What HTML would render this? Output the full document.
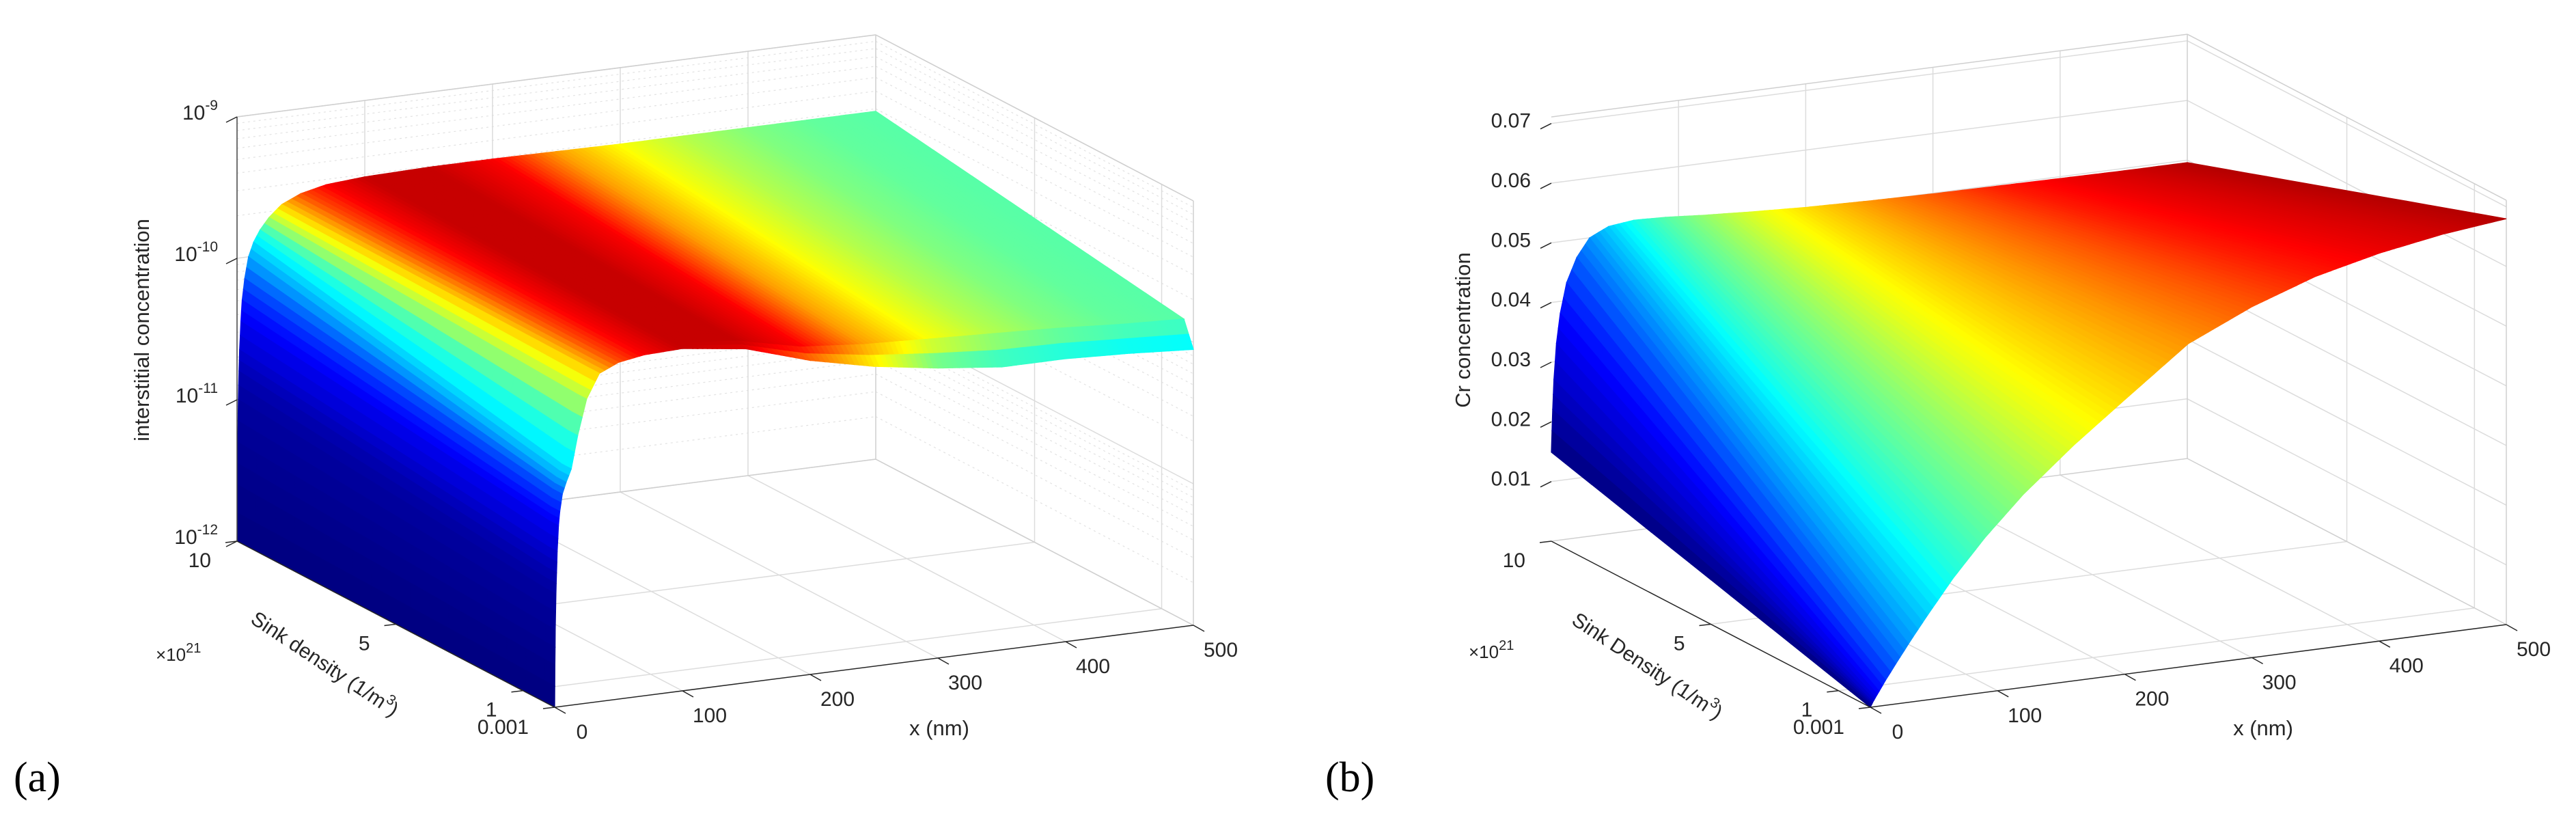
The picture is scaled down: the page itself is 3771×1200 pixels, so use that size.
<!DOCTYPE html>
<html><head><meta charset="utf-8"><style>
html,body{margin:0;padding:0;background:#fff;}
svg{display:block;}
text{font-family:"Liberation Sans",sans-serif;fill:#262626;}
</style></head><body>
<svg id="fig" xmlns="http://www.w3.org/2000/svg" width="3771" height="1200" viewBox="0 0 3771 1200">
<rect width="3771" height="1200" fill="#fff"/>
<g id="pa"></g>
<g id="pb"></g>
<text x="20" y="1158" style="font-family:'Liberation Serif',serif;font-size:62px;fill:#000">(a)</text>
<text x="1940" y="1158" style="font-family:'Liberation Serif',serif;font-size:62px;fill:#000">(b)</text>
</svg>
<script>
// ---------- Panel (a) data: log10 interstitial concentration ----------
const aX = [0,0.2,0.5,1,1.5,2,3,4,6,9,13,18,25,35,50,70,100,150,200,250,300,350,400,450,500];
const aSink = [0.001,0.3,10];
const aZLow  = [-12,-11.7,-11.45,-11.2,-11.05,-10.9,-10.72,-10.62,-10.5,-10.42,-10.33,-10.1,-9.85,-9.68,-9.62,-9.59,-9.58,-9.64,-9.78,-9.88,-9.95,-10.0,-10.0,-10.02,-10.05];
const aZMid  = [-12,-11.7,-11.45,-11.2,-11.05,-10.9,-10.72,-10.62,-10.5,-10.42,-10.33,-10.1,-9.85,-9.68,-9.62,-9.59,-9.58,-9.62,-9.72,-9.76,-9.78,-9.8,-9.82,-9.85,-9.87];
const aZHigh = [-12,-11.6,-11.3,-11.0,-10.8,-10.65,-10.45,-10.3,-10.15,-10.0,-9.9,-9.82,-9.74,-9.66,-9.6,-9.56,-9.54,-9.53,-9.53,-9.535,-9.54,-9.54,-9.54,-9.54,-9.54];
const aCTop  = [0,0.01,0.02,0.03,0.05,0.08,0.11,0.15,0.21,0.29,0.35,0.42,0.55,0.68,0.8,0.88,0.93,0.93,0.88,0.72,0.62,0.55,0.5,0.47,0.46];
const aCLow  = [0,0.01,0.02,0.03,0.05,0.08,0.11,0.15,0.21,0.29,0.35,0.42,0.55,0.68,0.8,0.88,0.93,0.9,0.75,0.62,0.45,0.4,0.38,0.36,0.35];
const aZTicks = [-12,-11,-10,-9];
const aZTickLabels = ["-12","-11","-10","-9"];
const aXTicks = [0,100,200,300,400,500];
const aSTicks = [0.001,1,5,10];
const aSTickLabels = ["0.001","1","5","10"];
// ---------- Panel (b) data: Cr concentration ----------
const bX = [0,1,2,4,7,12,20,30,45,65,90,120,160,200,250,300,350,400,450,500];
const bSink = [0.001,10];
const bZLow  = [0,0.0004,0.0008,0.0015,0.0025,0.0042,0.0067,0.0098,0.0142,0.0198,0.0259,0.0323,0.0395,0.046,0.054,0.0588,0.0625,0.065,0.0668,0.068];
const bZHigh = [0.0149,0.022,0.027,0.033,0.038,0.043,0.047,0.05,0.0515,0.052,0.0518,0.0513,0.0508,0.0504,0.0501,0.0499,0.0498,0.0497,0.0496,0.0496];
const bC     = [0,0.04,0.07,0.1,0.13,0.17,0.22,0.27,0.33,0.4,0.46,0.52,0.6,0.66,0.73,0.79,0.85,0.89,0.92,0.95];
const bZTicks = [0.01,0.02,0.03,0.04,0.05,0.06,0.07];
const bZTickLabels = ["0.01","0.02","0.03","0.04","0.05","0.06","0.07"];
const bXTicks = [0,100,200,300,400,500];
const bSTicks = [0.001,1,5,10];
const bSTickLabels = ["0.001","1","5","10"];

const NS="http://www.w3.org/2000/svg";
function mk(tag, attrs, parent){const e=document.createElementNS(NS,tag);for(const k in attrs)e.setAttribute(k,attrs[k]);parent.appendChild(e);return e;}
function cl(v){return Math.max(0,Math.min(1,v));}
function jet(c){c=cl(c);const r=cl(1.5-Math.abs(4*c-3)),g=cl(1.5-Math.abs(4*c-2)),b=cl(1.5-Math.abs(4*c-1));
 return `rgb(${Math.round(r*255)},${Math.round(g*255)},${Math.round(b*255)})`;}

function makeProj(O, ex, es, zbase, zscale){
 return (x,s,z)=>[O[0]+x/500*ex[0]+(s-0.001)/9.999*es[0], O[1]+x/500*ex[1]+(s-0.001)/9.999*es[1]-(z-zbase)*zscale];
}
function line(g,p,q,stroke,w,dash,name){
 const l=mk('line',{x1:p[0],y1:p[1],x2:q[0],y2:q[1],stroke:stroke,'stroke-width':w},g);
 if(dash)l.setAttribute('stroke-dasharray',dash);
 
 
 return l;
}
function surface(g, P, xs, ss, zRows, cRows, nsSubs, name){
 const quads=[];
 for(let j=0;j<ss.length-1;j++){
  const ns=nsSubs[j];
  for(let i=0;i<xs.length-1;i++){
   const nxSub=Math.max(2,Math.ceil((xs[i+1]-xs[i])/4));
   for(let a=0;a<nxSub;a++){
    for(let b=0;b<ns;b++){
     const pts=[];let csum=0,dsum=0;
     [[a,b],[a+1,b],[a+1,b+1],[a,b+1]].forEach(([u,v])=>{
      const fu=u/nxSub,fv=v/ns;
      const x=xs[i]+(xs[i+1]-xs[i])*fu;
      const s=ss[j]+(ss[j+1]-ss[j])*fv;
      const z0=zRows[j][i]+(zRows[j][i+1]-zRows[j][i])*fu;
      const z1=zRows[j+1][i]+(zRows[j+1][i+1]-zRows[j+1][i])*fu;
      const c0=cRows[j][i]+(cRows[j][i+1]-cRows[j][i])*fu;
      const c1=cRows[j+1][i]+(cRows[j+1][i+1]-cRows[j+1][i])*fu;
      const z=z0+(z1-z0)*fv,c=c0+(c1-c0)*fv;
      pts.push(P(x,s,z));csum+=c;dsum+=120*x/500+243*s/10;
     });
     quads.push({pts,c:csum/4,d:dsum/4});
    }
   }
  }
 }
 quads.sort((p,q)=>q.d-p.d);
 const sg=mk('g',{},g);
 
 
 quads.forEach(q=>{
  const col=jet(q.c);
  const pg=mk('polygon',{points:q.pts.map(p=>p[0].toFixed(1)+','+p[1].toFixed(1)).join(' '),fill:col,stroke:col,'stroke-width':1.2},sg);
  
  
 });
}
function txt(g,x,y,str,size,anchor,name,extra){
 const t=mk('text',{x:x,y:y,'font-size':size,'text-anchor':anchor||'start'},g);
 t.textContent=str;
 if(extra)for(const k in extra)t.setAttribute(k,extra[k]);
 
 
 return t;
}

function panel(g, cfg){
 const P=cfg.P, zb=cfg.zb, zt=cfg.zt;
 const grid='#dcdcdc', box='#cfcfcf';
 cfg.zGrid.forEach(z=>{
  line(g,P(0,10,z),P(500,10,z),grid,1.5,null,'back-wall-gridline');
  line(g,P(500,10,z),P(500,0.001,z),grid,1.5,null,'side-wall-gridline');
 });
 (cfg.zMinor||[]).forEach(z=>{
  line(g,P(0,10,z),P(500,10,z),'#e2e2e2',1.2,'3,5','back-wall-minor-gridline');
  line(g,P(500,10,z),P(500,0.001,z),'#e2e2e2',1.2,'3,5','side-wall-minor-gridline');
 });
 [100,200,300,400].forEach(x=>{
  line(g,P(x,10,zb),P(x,10,zt),grid,1.5,null,'back-wall-x-gridline');
  line(g,P(x,0.001,zb),P(x,10,zb),grid,1.5,null,'floor-x-gridline');
 });
 [1,5].forEach(s=>{
  line(g,P(500,s,zb),P(500,s,zt),grid,1.5,null,'side-wall-s-gridline');
  line(g,P(0,s,zb),P(500,s,zb),grid,1.5,null,'floor-s-gridline');
 });
 line(g,P(500,10,zb),P(500,10,zt),box,1.5,null,'box-edge');
 line(g,P(0,10,zt),P(500,10,zt),box,1.5,null,'box-edge');
 line(g,P(500,10,zt),P(500,0.001,zt),box,1.5,null,'box-edge');
 line(g,P(500,0.001,zb),P(500,0.001,zt),box,1.5,null,'box-edge');
 line(g,P(500,10,zb),P(0,10,zb),box,1.5,null,'box-edge');
 line(g,P(500,10,zb),P(500,0.001,zb),box,1.5,null,'box-edge');
 surface(g,P,cfg.xs,cfg.ss,cfg.zRows,cfg.cRows,cfg.nsSubs,cfg.surfName);
 line(g,P(0,0.001,zb),P(500,0.001,zb),'#262626',1.5,null,'x-axis-line');
 line(g,P(0,0.001,zb),P(0,10,zb),'#262626',1.5,null,'sink-axis-line');
 if(cfg.zAxisLine) line(g,P(0,10,zb),P(0,10,zt),'#444',1.5,null,'z-axis-line');
 cfg.xTicks.forEach(x=>{const p=P(x,0.001,zb);line(g,p,[p[0]+16,p[1]+9],'#262626',1.5,null,'x-tick');});
 cfg.sTicks.forEach(s=>{const p=P(0,s,zb);line(g,p,[p[0]-17,p[1]+2],'#262626',1.5,null,'sink-tick');});
 cfg.zTicks.forEach(z=>{const p=P(0,10,z);line(g,p,[p[0]-16,p[1]+8],'#262626',1.5,null,'z-tick');});
}

// ---------- Panel (a) ----------
const PA=makeProj([812,1035],[935,-120],[-465,-243],-12,207);
const ga=document.getElementById('pa');
const aMinor=[];for(let d=-12;d<-9;d++)for(let k=2;k<=9;k++)aMinor.push(d+Math.log10(k));
panel(ga,{P:PA,zb:-12,zt:-9,zGrid:aZTicks,zMinor:aMinor,xs:aX,ss:aSink,zRows:[aZLow,aZMid,aZHigh],cRows:[aCLow,aCTop,aCTop],
 nsSubs:[2,16],surfName:'interstitial-surface',xTicks:aXTicks,sTicks:aSTicks,zTicks:aZTicks,zAxisLine:true});
aZTicks.forEach((z,i)=>{
 const p=PA(0,10,z);
 const t=txt(ga,p[0]-28,p[1]+4,'10',30,'end','z-tick-label');
 const sp=mk('tspan',{dy:-14,'font-size':21},t);sp.textContent=aZTickLabels[i];
});
aXTicks.forEach(x=>{const p=PA(x,0.001,-12);txt(ga,p[0]+40,p[1]+46,String(x),30,'middle','x-tick-label');});
aSTicks.forEach((s,i)=>{const p=PA(0,s,-12);txt(ga,p[0]-38,p[1]+(s===0.001?39:38),aSTickLabels[i],30,'end','sink-tick-label');});
{const t=txt(ga,228,967,'\u00d710',26,'start','sink-exponent-label');const sp=mk('tspan',{dy:-12,'font-size':20},t);sp.textContent='21';}
txt(ga,1375,1076,'x (nm)',31,'middle','x-axis-title');
txt(ga,218,483,'interstitial concentration',31,'middle','z-axis-title',{transform:'rotate(-90 218 483)'});
{const t=txt(ga,470,980,'Sink density (1/m',30,'middle','sink-axis-title',{transform:'rotate(33.6 470 980)'});const sp=mk('tspan',{dy:-13,'font-size':21},t);sp.textContent='3';const sp2=mk('tspan',{dy:13},t);sp2.textContent=')';}

// ---------- Panel (b) ----------
const PB=makeProj([2738,1035],[931,-121],[-467,-243],0,8733);
const gb=document.getElementById('pb');
panel(gb,{P:PB,zb:0,zt:0.0711,zGrid:bZTicks,xs:bX,ss:bSink,zRows:[bZLow,bZHigh],cRows:[bC,bC],
 nsSubs:[16],surfName:'cr-surface',xTicks:bXTicks,sTicks:bSTicks,zTicks:bZTicks,zAxisLine:false});
bZTicks.forEach((z,i)=>{const p=PB(0,10,z);txt(gb,p[0]-30,p[1]+6,bZTickLabels[i],30,'end','z-tick-label');});
bXTicks.forEach(x=>{const p=PB(x,0.001,0);txt(gb,p[0]+40,p[1]+46,String(x),30,'middle','x-tick-label');});
bSTicks.forEach((s,i)=>{const p=PB(0,s,0);txt(gb,p[0]-38,p[1]+(s===0.001?39:38),bSTickLabels[i],30,'end','sink-tick-label');});
{const t=txt(gb,2150,963,'\u00d710',26,'start','sink-exponent-label');const sp=mk('tspan',{dy:-12,'font-size':20},t);sp.textContent='21';}
txt(gb,3313,1076,'x (nm)',31,'middle','x-axis-title');
txt(gb,2152,483,'Cr concentration',31,'middle','z-axis-title',{transform:'rotate(-90 2152 483)'});
{const t=txt(gb,2406,983,'Sink Density (1/m',30,'middle','sink-axis-title',{transform:'rotate(33.6 2406 983)'});const sp=mk('tspan',{dy:-13,'font-size':21},t);sp.textContent='3';const sp2=mk('tspan',{dy:13},t);sp2.textContent=')';}
</script>
</body></html>
